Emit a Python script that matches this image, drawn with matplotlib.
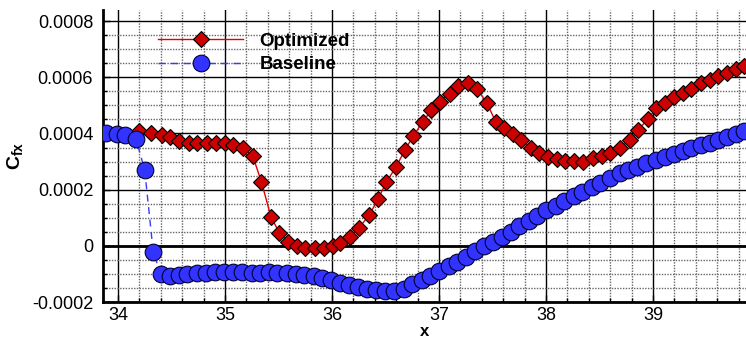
import matplotlib
matplotlib.use("Agg")
import matplotlib.pyplot as plt
from matplotlib.ticker import MultipleLocator, FixedLocator

plt.rcParams['font.family'] = ['Liberation Sans', 'DejaVu Sans']
plt.rcParams['mathtext.fontset'] = 'custom'
plt.rcParams['mathtext.rm'] = 'Liberation Sans'
plt.rcParams['mathtext.bf'] = 'Liberation Sans:bold'

# Optimized (red diamonds)
x_opt = [34.20, 34.31, 34.41, 34.49, 34.57, 34.66, 34.74, 34.83, 34.92, 35.00,
         35.08, 35.17, 35.26, 35.34, 35.43, 35.51, 35.59, 35.67, 35.75, 35.84,
         35.93, 36.01, 36.08, 36.17, 36.25, 36.35, 36.43, 36.51, 36.60, 36.68,
         36.76, 36.85, 36.93, 37.01, 37.10, 37.18, 37.27, 37.36, 37.45, 37.53,
         37.61, 37.69, 37.77, 37.86, 37.94, 38.02, 38.10, 38.18, 38.26, 38.35,
         38.44, 38.52, 38.60, 38.69, 38.79, 38.86, 38.95, 39.03, 39.11, 39.20,
         39.28, 39.36, 39.45, 39.53, 39.61, 39.69, 39.78, 39.85]
y_opt = [0.000408, 0.000400, 0.000396, 0.000386, 0.000372, 0.000365, 0.000365, 0.000365, 0.000365, 0.000365,
         0.000360, 0.000347, 0.000320, 0.000229, 0.000104, 0.000045, 0.000015, -0.000002, -0.000008, -0.000008,
         -0.000008, -0.000002, 0.000010, 0.000033, 0.000063, 0.000110, 0.000166, 0.000228, 0.000281, 0.000340,
         0.000390, 0.000442, 0.000483, 0.000513, 0.000542, 0.000568, 0.000580, 0.000557, 0.000507, 0.000442,
         0.000418, 0.000398, 0.000377, 0.000350, 0.000329, 0.000317, 0.000308, 0.000303, 0.000302, 0.000300,
         0.000312, 0.000320, 0.000329, 0.000350, 0.000377, 0.000412, 0.000450, 0.000489, 0.000509, 0.000528,
         0.000545, 0.000560, 0.000578, 0.000590, 0.000604, 0.000616, 0.000628, 0.000640]

# Baseline (blue circles)
x_base = [33.89, 33.99, 34.07, 34.17, 34.25, 34.33, 34.40, 34.49, 34.57, 34.65,
          34.74, 34.82, 34.91, 34.99, 35.08, 35.16, 35.25, 35.33, 35.41, 35.49,
          35.58, 35.66, 35.74, 35.83, 35.91, 35.99, 36.08, 36.16, 36.24, 36.33,
          36.41, 36.50, 36.58, 36.67, 36.75, 36.84, 36.92, 37.00, 37.09, 37.17,
          37.25, 37.34, 37.42, 37.51, 37.59, 37.67, 37.75, 37.84, 37.92, 38.00,
          38.09, 38.17, 38.26, 38.34, 38.43, 38.51, 38.60, 38.69, 38.77, 38.85,
          38.94, 39.03, 39.11, 39.20, 39.28, 39.36, 39.45, 39.53, 39.61, 39.69,
          39.78, 39.85]
y_base = [0.000400, 0.000398, 0.000394, 0.000379, 0.000270, -0.000022, -0.000100, -0.000109, -0.000105, -0.000100,
          -0.000097, -0.000095, -0.000093, -0.000093, -0.000093, -0.000094, -0.000095, -0.000095, -0.000094, -0.000095,
          -0.000098, -0.000100, -0.000104, -0.000109, -0.000115, -0.000123, -0.000133, -0.000141, -0.000148, -0.000154,
          -0.000156, -0.000159, -0.000159, -0.000152, -0.000137, -0.000123, -0.000109, -0.000091, -0.000073, -0.000056,
          -0.000038, -0.000020, -0.000002, 0.000015, 0.000033, 0.000051, 0.000069, 0.000089, 0.000107, 0.000126,
          0.000143, 0.000161, 0.000177, 0.000193, 0.000211, 0.000225, 0.000240, 0.000258, 0.000270, 0.000282,
          0.000294, 0.000306, 0.000317, 0.000327, 0.000339, 0.000347, 0.000359, 0.000367, 0.000377, 0.000386,
          0.000398, 0.000410]

x_ticks = [34, 35, 36, 37, 38, 39]
y_ticks = [-0.0002, 0, 0.0002, 0.0004, 0.0006, 0.0008]
y_tick_labels = ['-0.0002', '0', '0.0002', '0.0004', '0.0006', '0.0008']

fig = plt.figure(figsize=(7.46, 3.39), dpi=100)
ax = fig.add_axes([0.138, 0.109, 0.862, 0.862])

ax.plot(x_opt, y_opt, color='#e00000', lw=1, marker='D', markersize=8.3,
        markerfacecolor='#cc0000', markeredgecolor='black', markeredgewidth=0.8,
        label='Optimized', zorder=3)
ax.plot(x_base, y_base, color='#3a3aff', lw=1, ls=(0, (5, 4)), marker='o', markersize=12,
        markerfacecolor='#3333ff', markeredgecolor='#000033', markeredgewidth=0.8,
        label='Baseline', zorder=4)

ax.set_xlim(33.86, 39.87)
ax.set_ylim(-0.0002, 0.00084)

ax.xaxis.set_major_locator(FixedLocator(x_ticks))
ax.set_yticks(y_ticks)
ax.set_yticklabels(y_tick_labels)
ax.xaxis.set_minor_locator(MultipleLocator(0.2))
ax.yaxis.set_minor_locator(MultipleLocator(0.00005))

ax.grid(which='major', color='black', lw=1, ls='-', zorder=0)
ax.grid(which='minor', color='#666666', lw=1, ls=(0, (1, 1)), zorder=0)
ax.axhline(0, color='black', lw=2, zorder=1)
ax.set_axisbelow(True)

for side in ['top', 'right']:
    ax.spines[side].set_visible(False)
ax.spines['left'].set_linewidth(2)
ax.spines['bottom'].set_linewidth(2)

ax.tick_params(axis='both', which='major', labelsize=13, direction='in', length=5, width=1)
ax.tick_params(axis='both', which='minor', direction='in', length=3, width=1)
ax.tick_params(axis='y', which='major', pad=7)

ax.set_xlabel('x', fontsize=12, fontweight='bold', labelpad=0)
ax.set_ylabel(r'$\mathbf{C}_{\mathbf{fx}}$', fontsize=14, labelpad=4)

leg = ax.legend(loc='upper left', bbox_to_anchor=(0.06, 0.98), frameon=False,
                handlelength=4.5, handletextpad=0.9, labelspacing=0.35,
                prop={'size': 13.5, 'weight': 'bold'})

fig.savefig('out.png', dpi=100)
